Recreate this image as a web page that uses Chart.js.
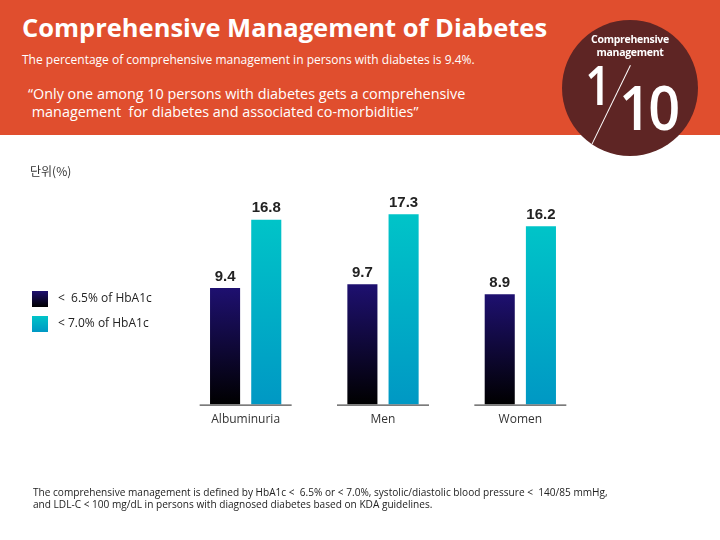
<!DOCTYPE html>
<html>
<head>
<meta charset="utf-8">
<script src="https://cdn.jsdelivr.net/npm/chart.js@4"></script>
<style>
  html, body { margin: 0; padding: 0; background: #fff; }
  body { width: 720px; height: 540px; position: relative; overflow: hidden;
         font-family: "Open Sans", "Noto Sans", sans-serif; }
  .header { position: absolute; left: 0; top: 0; width: 720px; height: 135px; background: #E04E2E; }
  .title { position: absolute; left: 22px; top: 10px; color: #fff; font-size: 25.5px; font-weight: 700; white-space: nowrap; }
  .sub { position: absolute; left: 22px; top: 51px; color: #fff; font-size: 12px; white-space: nowrap; }
  .quote { position: absolute; left: 28px; top: 85px; color: #fff; font-size: 14.4px; line-height: 18px; white-space: nowrap; }
  .circle { position: absolute; left: 562px; top: 20px; width: 136px; height: 136px; border-radius: 50%; background: #5E2524; overflow: hidden; }
  .circle .lbl { position: absolute; left: 0; width: 136px; top: 13px; text-align: center; color: #fff; font-size: 10.5px; font-weight: 700; line-height: 13px; letter-spacing: -0.3px; }
  .circle .one { position: absolute; left: 23px; top: 37px; color: #fff; font-size: 54px; font-weight: 600; line-height: 1; transform: scaleX(0.85); transform-origin: left; }
  .circle .ten { position: absolute; left: 57px; top: 55px; color: #fff; font-size: 62px; font-weight: 600; line-height: 1; letter-spacing: -3px; transform: scaleX(0.9); transform-origin: left; }
  .circle .slash { position: absolute; left: 68px; top: 45px; width: 1px; height: 100px; background: #fff; transform: rotate(26deg); transform-origin: top left; }
  #wrap { position: absolute; left: 0; top: 0; width: 720px; height: 540px; }
  .unit { position: absolute; left: 30px; top: 162px; font-size: 12px; color: #333; font-family: "Noto Sans CJK KR", sans-serif; }
  .legend { position: absolute; left: 32px; font-size: 12px; color: #222; white-space: nowrap; }
  .legend span { display: inline-block; width: 16px; height: 16px; vertical-align: middle; margin-right: 10px; }
  .foot { position: absolute; left: 33px; top: 486px; font-size: 10.1px; line-height: 12px; color: #222; white-space: nowrap; }
</style>
</head>
<body>
<div class="header">
  <div class="title">Comprehensive Management of Diabetes</div>
  <div class="sub">The percentage of comprehensive management in persons with diabetes is 9.4%.</div>
  <div class="quote">“Only one among 10 persons with diabetes gets a comprehensive<br>&nbsp;management&nbsp; for diabetes and associated co-morbidities”</div>
</div>
<div id="wrap"><canvas id="chart" width="720" height="540"></canvas></div>
<div class="circle">
  <div class="lbl">Comprehensive<br>management</div>
  <div class="one">1</div>
  <div class="slash"></div>
  <div class="ten">10</div>
</div>
<div class="unit">단위(%)</div>
<div class="legend" style="top:289px"><span style="background:linear-gradient(#1E1070,#000)"></span>&lt;&nbsp; 6.5% of HbA1c</div>
<div class="legend" style="top:314px"><span style="background:linear-gradient(#00C4C8,#0098C4)"></span>&lt; 7.0% of HbA1c</div>
<div class="foot">The comprehensive management is defined by HbA1c &lt;&nbsp; 6.5% or &lt; 7.0%, systolic/diastolic blood pressure &lt;&nbsp; 140/85 mmHg,<br>and LDL-C &lt; 100 mg/dL in persons with diagnosed diabetes based on KDA guidelines.</div>

<script>
const categories = ['Albuminuria', 'Men', 'Women'];
const hba1c65 = [9.4, 9.7, 8.9];
const hba1c70 = [16.8, 17.3, 16.2];

// gradient for each bar, from its own top down to the baseline
function barGradient(top, bottom) {
  return function (ctx) {
    const chart = ctx.chart;
    if (!chart.chartArea || ctx.dataIndex === undefined) return bottom;
    const yScale = chart.scales[ctx.dataset.yAxisID];
    const v = ctx.dataset.data[ctx.dataIndex];
    const y0 = yScale.getPixelForValue(v);
    const y1 = yScale.getPixelForValue(0);
    const g = chart.ctx.createLinearGradient(0, y0, 0, y1);
    g.addColorStop(0, top);
    g.addColorStop(1, bottom);
    return g;
  };
}

// value labels above bars + short baseline under each group
const decorations = {
  id: 'decorations',
  afterDatasetsDraw(chart) {
    const ctx = chart.ctx;
    const x = chart.scales.x;
    const base = chart.chartArea.bottom;
    ctx.save();
    ctx.strokeStyle = '#222';
    ctx.lineWidth = 1;
    categories.forEach((c, i) => {
      const cx = x.getPixelForValue(i);
      ctx.beginPath();
      ctx.moveTo(cx - 46, base + 0.5);
      ctx.lineTo(cx + 46, base + 0.5);
      ctx.stroke();
    });
    ctx.fillStyle = '#222';
    ctx.font = 'bold 15px "Liberation Sans", Arial, sans-serif';
    ctx.textAlign = 'center';
    ctx.textBaseline = 'bottom';
    chart.data.datasets.forEach((ds, di) => {
      chart.getDatasetMeta(di).data.forEach((bar, i) => {
        ctx.fillText(ds.data[i].toFixed(1), bar.x, bar.y - 4);
      });
    });
    ctx.restore();
  }
};

new Chart(document.getElementById('chart'), {
  type: 'bar',
  data: {
    labels: categories,
    datasets: [
      {
        label: '< 6.5% of HbA1c',
        data: hba1c65,
        yAxisID: 'y',
        backgroundColor: barGradient('#1E1070', '#000000'),
        categoryPercentage: 0.6,
        barPercentage: 0.73
      },
      {
        label: '< 7.0% of HbA1c',
        data: hba1c70,
        yAxisID: 'y2',
        backgroundColor: barGradient('#00C4C8', '#0098C4'),
        categoryPercentage: 0.6,
        barPercentage: 0.73
      }
    ]
  },
  options: {
    responsive: false,
    animation: false,
    layout: { padding: { left: 177, right: 131, top: 190, bottom: 113 } },
    plugins: {
      legend: { display: false },
      tooltip: { enabled: false }
    },
    scales: {
      x: {
        grid: { display: false },
        border: { display: false },
        ticks: { color: '#333', padding: 0, font: { size: 12, family: '"Open Sans", sans-serif' } }
      },
      y: { display: false, min: 0, max: 17.3 },
      y2: { display: false, min: 0, max: 19.5 }
    }
  },
  plugins: [decorations]
});
</script>
</body>
</html>
